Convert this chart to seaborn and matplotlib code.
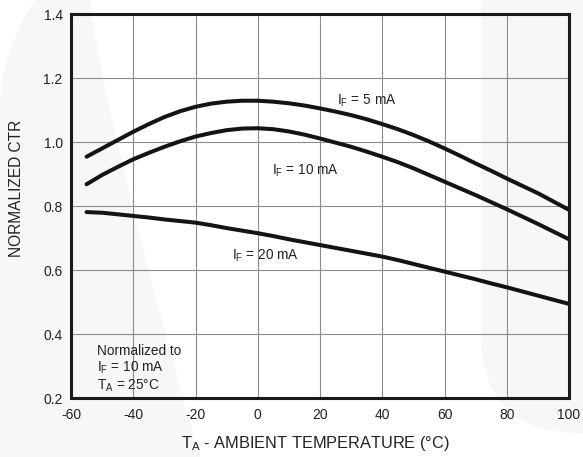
import numpy as np
import pandas as pd
import matplotlib
matplotlib.use('Agg')
import matplotlib.pyplot as plt
import seaborn as sns
from matplotlib.patches import Polygon, FancyBboxPatch

# values (every 5 degC)
temps = [-55, -50, -45, -40, -35, -30, -25, -20, -15, -10, -5, 0, 5, 10, 15, 20,
         25, 30, 35, 40, 45, 50, 55, 60, 65, 70, 75, 80, 85, 90, 95, 100]
ctr_5ma = [0.954, 0.980, 1.006, 1.032, 1.056, 1.078, 1.096, 1.110, 1.120, 1.126,
           1.129, 1.129, 1.126, 1.121, 1.114, 1.105, 1.095, 1.084, 1.071, 1.056,
           1.040, 1.022, 1.002, 0.980, 0.957, 0.933, 0.910, 0.886, 0.863, 0.840,
           0.814, 0.788]
ctr_10ma = [0.868, 0.897, 0.922, 0.946, 0.966, 0.985, 1.002, 1.017, 1.028, 1.037,
            1.042, 1.043, 1.040, 1.033, 1.023, 1.011, 0.998, 0.985, 0.970, 0.954,
            0.937, 0.918, 0.897, 0.876, 0.855, 0.834, 0.812, 0.790, 0.767, 0.744,
            0.720, 0.696]
ctr_20ma = [0.781, 0.779, 0.774, 0.769, 0.764, 0.758, 0.753, 0.748, 0.740, 0.731,
            0.723, 0.715, 0.706, 0.696, 0.687, 0.678, 0.669, 0.660, 0.651, 0.642,
            0.631, 0.619, 0.607, 0.595, 0.583, 0.571, 0.558, 0.546, 0.533, 0.520,
            0.507, 0.494]
currents = ['5 mA', '10 mA', '20 mA']

x_ticks = [-60, -40, -20, 0, 20, 40, 60, 80, 100]
y_ticks = [0.2, 0.4, 0.6, 0.8, 1.0, 1.2, 1.4]

df = pd.DataFrame({
    'temp': temps * 3,
    'ctr': ctr_5ma + ctr_10ma + ctr_20ma,
    'current': [c for c in currents for _ in temps],
})

sns.set_style('white')
plt.rcParams['font.family'] = ['Liberation Sans', 'DejaVu Sans']
plt.rcParams['axes.unicode_minus'] = False
plt.rcParams['mathtext.fontset'] = 'custom'
plt.rcParams['mathtext.rm'] = 'Liberation Sans'
plt.rcParams['mathtext.it'] = 'Liberation Sans'
plt.rcParams['mathtext.default'] = 'regular'

fig = plt.figure(figsize=(5.83, 4.57), dpi=100)

# faint watermark in the background
bg = fig.add_axes([0, 0, 1, 1], zorder=-1)
bg.set_xlim(0, 583)
bg.set_ylim(457, 0)
bg.axis('off')
wm = '#f7f6f9'
t = np.linspace(0, 1, 30)
inner = np.column_stack([90 + 110 * t ** 1.2, 457 * t])
crescent = np.vstack([[[35, 0]], inner, [[0, 457]], [[0, 110]],
                      np.column_stack([35 * t ** 2, 110 * (1 - t)])])
bg.add_patch(Polygon(crescent, closed=True, facecolor=wm, edgecolor='none'))
bg.add_patch(FancyBboxPatch((481, -300), 400, 733, boxstyle='round,pad=0,rounding_size=100',
                            facecolor=wm, edgecolor='none'))

ax = fig.add_axes([71 / 583, 59 / 457, 498 / 583, 384 / 457])
ax.set_facecolor('none')

sns.lineplot(data=df, x='temp', y='ctr', hue='current', palette=['#141414'] * 3,
             estimator=None, sort=False, legend=False, linewidth=2.9,
             solid_capstyle='round', ax=ax)

ax.set_xlim(-60, 100)
ax.set_ylim(0.2, 1.4)
ax.set_xticks(x_ticks)
ax.set_yticks(y_ticks)
ax.set_yticklabels([f'{v:.1f}' for v in y_ticks])
ax.tick_params(length=0, labelsize=10, labelcolor='#222222')
ax.tick_params(axis='y', pad=6)
ax.tick_params(axis='x', pad=7)
ax.grid(True, color='#8c8c8c', linewidth=0.8)
for s in ax.spines.values():
    s.set_linewidth(2.2)
    s.set_color('#1a1a1a')

ax.set_xlabel(r'T$_{\rm A}$ - AMBIENT TEMPERATURE (°C)', fontsize=11.8, color='#222222')
ax.set_ylabel('NORMALIZED CTR', fontsize=11.2, color='#222222')
ax.xaxis.set_label_coords(0.49, -0.095)
ax.yaxis.set_label_coords(-0.095, 0.545)

lab = dict(fontsize=9.8, color='#222222', ha='left', va='baseline')
ax.text(25.5, 1.118, r'I$_{\rm F}$ = 5 mA', **lab)
ax.text(4.5, 0.897, r'I$_{\rm F}$ = 10 mA', **lab)
ax.text(-8.2, 0.631, r'I$_{\rm F}$ = 20 mA', **lab)
ax.text(-51.5, 0.334, 'Normalized to', **lab)
ax.text(-51.5, 0.282, r'I$_{\rm F}$ = 10 mA', **lab)
ax.text(-51.5, 0.227, r'T$_{\rm A}$ = 25°C', **lab)

fig.savefig('out.png', dpi=100, facecolor='white')
